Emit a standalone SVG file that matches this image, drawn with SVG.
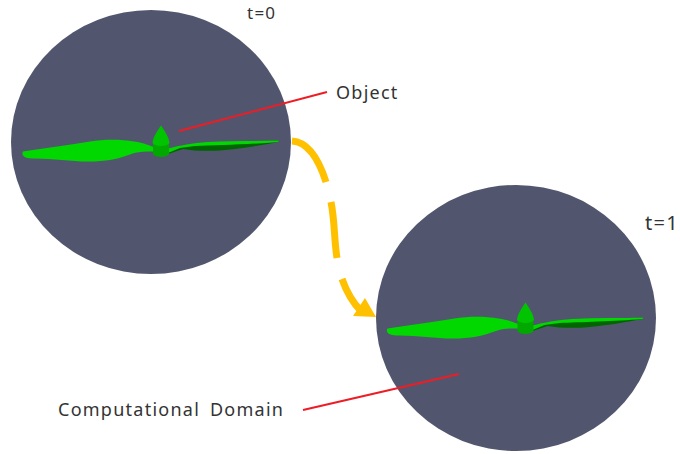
<svg xmlns="http://www.w3.org/2000/svg" width="680" height="454" viewBox="0 0 680 454">
<style>
.dom{fill:#51566e}
.lead{stroke:#ee1c25;stroke-width:2;fill:none}
.mv{stroke:#ffc000;stroke-width:7;fill:none}
text{font-family:"Noto Sans","Liberation Sans",sans-serif;font-size:18px;fill:#333;letter-spacing:1.250px;word-spacing:4px}
</style>
<defs>
<g id="prop">
<path d="M23 151.500C45 148 70 145 90 141.500C105 139 122 139.500 134 141.500C144 143 150 145.500 156 148L156 152C146 151 138 151.500 130 154.500C118 159 106 161.500 88 161.500C70 161.500 50 158 32 158.500C24 158.500 21 155 23 151.500Z" fill="#00d800"/>
<path d="M168 149C180 147 190 145 205 144C230 142 255 142 279 140.500L278 142C262 145 245 148 225 150C208 151.500 195 151 183 149L168 154Z" fill="#006400"/>
<path d="M168 148.500C180 145.500 192 143 208 142C232 140.500 255 141.500 279 140.500L278 142C250 144.500 215 145 195 146L180 148L168 153Z" fill="#00d800"/>
<path d="M153 141V154C155 158 167 158 169 154V141Z" fill="#00a800"/>
<path d="M161 125.500C158 130 153 137 152.500 143C155 147 167 147 169.500 143C169 137 164 130 161 125.500Z" fill="#00c400"/>
</g>
</defs>
<rect width="680" height="454" fill="#fff"/>
<g id="domain-t0">
<ellipse class="dom" cx="151" cy="142" rx="140" ry="132"/>
<use href="#prop"/>
</g>
<g id="domain-t1">
<ellipse class="dom" cx="516" cy="318" rx="140" ry="133"/>
<use href="#prop" x="364.500" y="177"/>
</g>
<g id="connectors">
<path class="lead" d="M179 131L327 92"/>
<path class="lead" d="M303 410L459 374"/>
<path class="mv" d="M292 141C308 142 319 160 326 182"/>
<path class="mv" d="M331 202C335 222 334 240 337 258"/>
<path class="mv" d="M342 279C347 293 354 304 361 311"/>
<path d="M376 317L353 316L365 298Z" fill="#ffc000"/>
</g>
<g id="labels">
<text x="247" y="18.500" style="font-size:17px">t=0</text>
<text x="645" y="230" style="font-size:20px">t=1</text>
<text x="336" y="99">Object</text>
<text x="58" y="416">Computational Domain</text>
</g>
</svg>
